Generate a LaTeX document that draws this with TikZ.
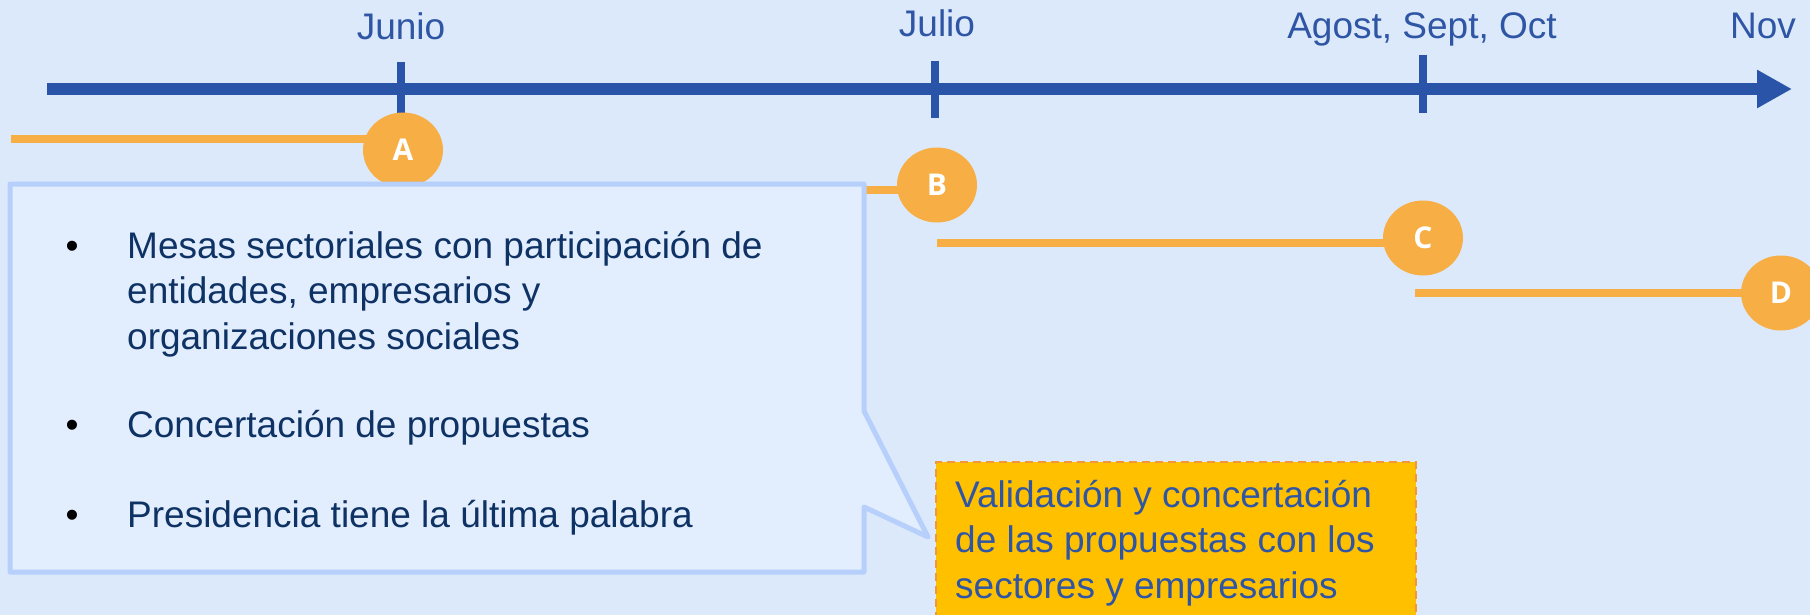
\documentclass[tikz,border=0pt]{standalone}
\usepackage{fontspec}
\setmainfont{Liberation Sans}
\newfontfamily\circfont{Open Sans}
\usetikzlibrary{shapes.geometric,arrows.meta}
\definecolor{bgc}{RGB}{220,233,250}
\definecolor{boxfill}{RGB}{226,237,253}
\definecolor{boxline}{RGB}{183,207,251}
\definecolor{axisc}{RGB}{41,84,168}
\definecolor{orangec}{RGB}{246,174,69}
\definecolor{lblue}{RGB}{47,85,165}
\definecolor{navy}{RGB}{14,50,100}
\definecolor{yell}{RGB}{255,192,0}
\definecolor{dashc}{RGB}{240,150,60}
\pgfdeclarelayer{back}
\pgfdeclarelayer{lines}
\pgfsetlayers{back,lines,main}
\newcommand{\linesblock}[1]{\vtop{\baselineskip=45.5pt\lineskiplimit=-100pt #1}}
\tikzset{
  month/.style={anchor=base, font=\fontsize{37}{44}\selectfont, text=lblue, inner sep=0},
  tick/.style={draw=axisc, line width=8pt},
  milestone/.style={ellipse, fill=orangec, minimum width=80pt, minimum height=75pt, inner sep=0,
     text=white, font=\circfont\bfseries\fontsize{30}{30}\selectfont},
  seg/.style={draw=orangec, line width=8pt},
  bullettext/.style={anchor=base west, inner sep=0, text=navy,
     font=\fontsize{37}{45.5}\selectfont},
  yelltext/.style={anchor=base west, inner sep=0, text=lblue,
     font=\fontsize{37}{44}\selectfont},
  bulletmark/.style={anchor=base, inner sep=0, text=black, font=\fontsize{37}{45}\selectfont},
}
\begin{document}
\begin{tikzpicture}[x=1pt,y=-1pt]
\useasboundingbox (0,0) rectangle (1810,615);
\begin{pgfonlayer}{back}
\fill[bgc] (0,0) rectangle (1810,615);
\end{pgfonlayer}
% axis
\coordinate (ax0) at (47,89);
\coordinate (ax1) at (1792,89);
\draw[axisc, line width=12pt, -{Triangle[length=35pt,width=36pt]}] (ax0) -- (ax1);
% ticks
\coordinate (t1a) at (401,62); \coordinate (t1b) at (401,118);
\coordinate (t2a) at (935,61); \coordinate (t2b) at (935,118);
\coordinate (t3a) at (1423,55); \coordinate (t3b) at (1423,113);
\draw[tick] (t1a) -- (t1b);
\draw[tick] (t2a) -- (t2b);
\draw[tick] (t3a) -- (t3b);
% labels
\node[month] (lj) at (401,40) {Junio};
\node[month] (ll) at (937,37) {Julio};
\node[month] (la) at (1422,39) {Agost, Sept, Oct};
\node[month] (ln) at (1763,39) {Nov};
% milestones
\node[milestone] (A) at (403,150) {A};
\node[milestone] (B) at (937,185) {B};
\node[milestone] (C) at (1423,238) {C};
\node[milestone] (D) at (1781,293) {D};
% segments
\coordinate (s0) at (11,139);
\coordinate (s1) at (401,190);
\coordinate (s2) at (937,243);
\coordinate (s3) at (1415,293);
\begin{pgfonlayer}{lines}
\draw[seg] (s0) -- (s0 -| A.center);
\draw[seg] (s1) -- (s1 -| B.center);
\draw[seg] (s2) -- (s2 -| C.center);
\draw[seg] (s3) -- (s3 -| D.center);
\end{pgfonlayer}
% yellow box
\node[fill=yell, draw=dashc, dash pattern=on 8pt off 5pt, line width=2pt,
      minimum width=480pt, minimum height=190pt, anchor=north west, inner sep=0] (Y) at (935,461) {};
\node[yelltext] (Yt) at (955,507)
  {\linesblock{\hbox{Validación y concertación}\hbox{de las propuestas con los}\hbox{sectores y empresarios}}};
% callout
\coordinate (tip) at (928,537);
\draw[boxline, line width=5pt, fill=boxfill, line join=round]
  (10,184) -- (864,184) -- (864,411) -- (tip) -- (864,507) -- (864,572) -- (10,572) -- cycle;
\node[bulletmark] (b1) at (72,258) {•};
\node[bulletmark] (b2) at (72,437) {•};
\node[bulletmark] (b3) at (72,527) {•};
\node[bullettext] (m1) at (127,258) {\linesblock{\hbox{Mesas sectoriales con participación de}\hbox{entidades, empresarios y}\hbox{organizaciones sociales}}};
\node[bullettext] (m2) at (127,437) {Concertación de propuestas};
\node[bullettext] (m3) at (127,527) {Presidencia tiene la última palabra};
\end{tikzpicture}
\end{document}
